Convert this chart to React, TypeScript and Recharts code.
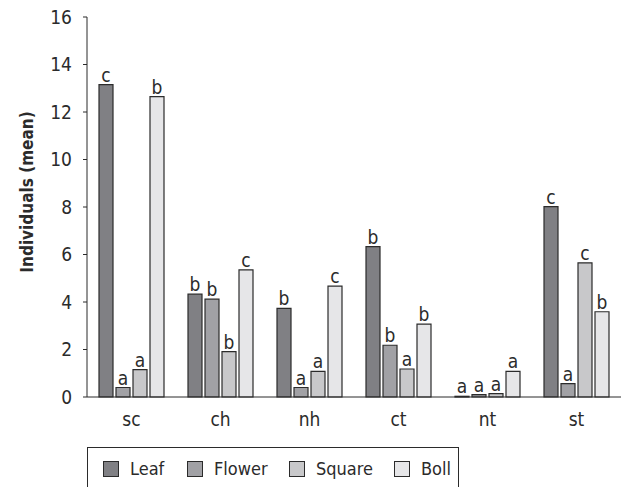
import { BarChart, Bar, XAxis, YAxis, Legend, LabelList } from 'recharts';

const categories = ['sc', 'ch', 'nh', 'ct', 'nt', 'st'];
const leaf = [13.15, 4.33, 3.73, 6.33, 0.03, 8.02];
const flower = [0.4, 4.12, 0.4, 2.18, 0.1, 0.56];
const square = [1.15, 1.91, 1.08, 1.18, 0.14, 5.65];
const boll = [12.65, 5.35, 4.67, 3.07, 1.08, 3.59];

const leafLetters = ['c', 'b', 'b', 'b', 'a', 'c'];
const flowerLetters = ['a', 'b', 'a', 'b', 'a', 'a'];
const squareLetters = ['a', 'b', 'a', 'a', 'a', 'c'];
const bollLetters = ['b', 'c', 'c', 'b', 'a', 'b'];

const yTicks = [0, 2, 4, 6, 8, 10, 12, 14, 16];
const boundaryTicks = [0, 1, 2, 3, 4, 5, 6];

const FONT = "'DejaVu Sans Condensed', 'Liberation Sans Narrow', 'Liberation Sans', sans-serif";
const INK = '#2b2b2b';

const series = [
  { key: 'leaf', name: 'Leaf', fill: '#808084', letters: 'leafL', itemWidth: 84 },
  { key: 'flower', name: 'Flower', fill: '#a1a1a5', letters: 'flowerL', itemWidth: 102 },
  { key: 'square', name: 'Square', fill: '#c8c8ca', letters: 'squareL', itemWidth: 105 },
  { key: 'boll', name: 'Boll', fill: '#e6e6e8', letters: 'bollL', itemWidth: 60 },
];

const data = categories.map((name, i) => ({
  name,
  idx: i,
  leaf: leaf[i],
  flower: flower[i],
  square: square[i],
  boll: boll[i],
  leafL: leafLetters[i],
  flowerL: flowerLetters[i],
  squareL: squareLetters[i],
  bollL: bollLetters[i],
}));

function LegendBox() {
  return (
    <div
      style={{
        boxSizing: 'border-box',
        width: 372,
        height: 48,
        border: `1px solid ${INK}`,
        display: 'flex',
        alignItems: 'flex-start',
        paddingLeft: 15,
        paddingTop: 11,
        fontFamily: FONT,
        fontStretch: 'condensed',
        fontSize: 18,
        color: INK,
      }}
    >
      {series.map((s) => (
        <div key={s.key} style={{ display: 'flex', alignItems: 'center', width: s.itemWidth, flex: 'none' }}>
          <span
            style={{
              display: 'inline-block',
              width: 14,
              height: 14,
              background: s.fill,
              border: `1px solid ${INK}`,
              marginRight: 11,
            }}
          />
          <span style={{ lineHeight: '20px' }}>{s.name}</span>
        </div>
      ))}
    </div>
  );
}

export default function App() {
  return (
    <div style={{ position: 'absolute', left: 0, top: 0, background: '#fff' }}>
      <BarChart
        width={621}
        height={487}
        data={data}
        margin={{ top: 17, right: 0, left: 0, bottom: -3 }}
        barSize={14}
        barGap={3}
      >
        <XAxis
          xAxisId="b_cat"
          dataKey="name"
          axisLine={false}
          tickLine={false}
          tickSize={0}
          tickMargin={11}
          height={40}
          tick={{ fill: INK, fontSize: 19, fontFamily: FONT }}
        />
        <XAxis
          xAxisId="a_grid"
          type="number"
          dataKey="idx"
          domain={[0, 6]}
          ticks={boundaryTicks}
          tick={false}
          tickSize={5}
          height={5}
          axisLine={{ stroke: INK, strokeWidth: 1 }}
          tickLine={{ stroke: INK, strokeWidth: 1 }}
          allowDataOverflow
        />
        <YAxis
          width={87}
          domain={[0, 16]}
          ticks={yTicks}
          tickSize={4}
          tickMargin={11}
          axisLine={{ stroke: INK, strokeWidth: 1 }}
          tickLine={{ stroke: INK, strokeWidth: 1 }}
          tick={{ fill: INK, fontSize: 19, fontFamily: FONT }}
          label={{
            content: ({ viewBox }: any) => {
              const x = viewBox.x + 27;
              const y = viewBox.y + viewBox.height / 2 - 15;
              return (
                <text
                  x={x}
                  y={y}
                  transform={`rotate(-90 ${x} ${y})`}
                  textAnchor="middle"
                  dominantBaseline="central"
                  fontFamily={FONT}
                  fontWeight="bold"
                  fontSize={17}
                  fill={INK}
                >
                  Individuals (mean)
                </text>
              );
            },
          }}
        />
        <Legend
          layout="vertical"
          align="center"
          verticalAlign="bottom"
          content={() => <LegendBox />}
          wrapperStyle={{ left: 87, top: 447, bottom: 'auto', width: 372, height: 48 }}
        />
        {series.map((s) => (
          <Bar
            key={s.key}
            xAxisId="b_cat"
            dataKey={s.key}
            name={s.name}
            fill={s.fill}
            stroke={INK}
            strokeWidth={1.2}
            isAnimationActive={false}
          >
            <LabelList
              dataKey={s.letters}
              position="top"
              offset={3}
              style={{ fill: INK, fontSize: 19, fontFamily: FONT }}
            />
          </Bar>
        ))}
      </BarChart>
    </div>
  );
}
